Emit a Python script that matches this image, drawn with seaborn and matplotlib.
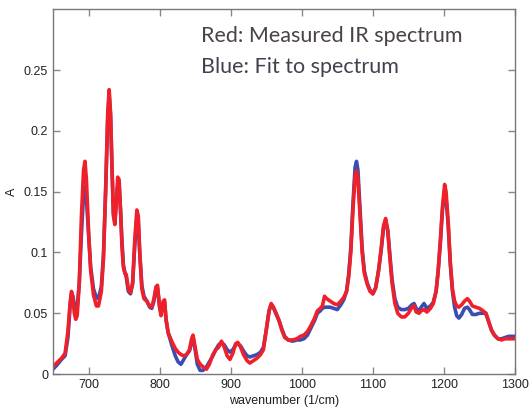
import numpy as np
import pandas as pd
import matplotlib
matplotlib.use("Agg")
import matplotlib.pyplot as plt
import seaborn as sns

# wavenumber grid (1/cm) and absorbance
wavenumber = [
    650, 655, 662, 667, 671, 674, 676, 678, 680, 682, 684, 687, 690, 693, 695, 697,
    700, 703, 707, 711, 714, 718, 721, 724, 727, 729, 731, 733, 735, 737, 739, 741,
    743, 745, 747, 749, 751, 753, 756, 759, 762, 765, 768, 770, 772, 775, 778, 782,
    786, 789, 792, 795, 797, 800, 802, 805, 807, 809, 812, 817, 822, 826, 830, 834,
    838, 842, 845, 847, 850, 853, 857, 861, 866, 870, 875, 879, 883, 887, 891, 895,
    899, 903, 907, 910, 914, 918, 923, 927, 932, 937, 942, 946, 950, 954, 957, 960,
    964, 968, 972, 976, 981, 987, 993, 998, 1003, 1008, 1013, 1018, 1022, 1026, 1029, 1032,
    1035, 1040, 1045, 1050, 1055, 1059, 1063, 1066, 1069, 1072, 1075, 1077, 1079, 1082, 1085, 1088,
    1092, 1096, 1100, 1104, 1108, 1112, 1115, 1118, 1121, 1124, 1127, 1131, 1135, 1140, 1145, 1150,
    1155, 1158, 1161, 1165, 1168, 1172, 1176, 1181, 1185, 1189, 1192, 1195, 1198, 1201, 1203, 1206,
    1209, 1212, 1215, 1218, 1221, 1225, 1229, 1233, 1236, 1240, 1245, 1250, 1255, 1259, 1263, 1267,
    1271, 1276, 1281, 1286, 1291, 1296, 1300,
]

measured = [
    0.006, 0.009, 0.013, 0.017, 0.035, 0.058, 0.068, 0.063, 0.050, 0.045, 0.048, 0.075, 0.130, 0.168, 0.175, 0.160,
    0.118, 0.085, 0.065, 0.056, 0.056, 0.068, 0.095, 0.150, 0.215, 0.234, 0.215, 0.170, 0.130, 0.123, 0.140, 0.162,
    0.160, 0.135, 0.105, 0.088, 0.083, 0.082, 0.070, 0.067, 0.075, 0.110, 0.135, 0.130, 0.100, 0.070, 0.062, 0.060,
    0.056, 0.055, 0.062, 0.072, 0.073, 0.055, 0.048, 0.060, 0.061, 0.045, 0.034, 0.027, 0.021, 0.018, 0.016, 0.015,
    0.016, 0.020, 0.029, 0.032, 0.022, 0.012, 0.008, 0.006, 0.004, 0.008, 0.016, 0.020, 0.022, 0.027, 0.022, 0.015,
    0.012, 0.017, 0.025, 0.026, 0.022, 0.016, 0.011, 0.009, 0.011, 0.013, 0.016, 0.020, 0.036, 0.052, 0.058, 0.055,
    0.050, 0.044, 0.036, 0.030, 0.028, 0.028, 0.029, 0.031, 0.032, 0.035, 0.040, 0.046, 0.052, 0.054, 0.056, 0.064,
    0.062, 0.060, 0.058, 0.057, 0.060, 0.063, 0.068, 0.080, 0.100, 0.135, 0.163, 0.167, 0.160, 0.130, 0.100, 0.083,
    0.074, 0.068, 0.066, 0.071, 0.085, 0.105, 0.122, 0.128, 0.118, 0.095, 0.075, 0.058, 0.050, 0.047, 0.047, 0.050,
    0.055, 0.056, 0.051, 0.050, 0.052, 0.053, 0.051, 0.054, 0.058, 0.068, 0.086, 0.110, 0.138, 0.156, 0.150, 0.125,
    0.092, 0.070, 0.060, 0.056, 0.055, 0.057, 0.060, 0.062, 0.060, 0.056, 0.055, 0.054, 0.052, 0.050, 0.043, 0.036,
    0.032, 0.029, 0.028, 0.029, 0.029, 0.029, 0.029,
]

fit = [
    0.004, 0.007, 0.012, 0.015, 0.030, 0.055, 0.066, 0.064, 0.057, 0.053, 0.055, 0.075, 0.115, 0.148, 0.154, 0.145,
    0.115, 0.088, 0.070, 0.063, 0.062, 0.072, 0.098, 0.150, 0.210, 0.230, 0.212, 0.170, 0.132, 0.126, 0.140, 0.155,
    0.156, 0.135, 0.110, 0.090, 0.084, 0.080, 0.068, 0.066, 0.074, 0.105, 0.130, 0.125, 0.100, 0.073, 0.064, 0.060,
    0.055, 0.054, 0.060, 0.070, 0.071, 0.055, 0.050, 0.058, 0.059, 0.045, 0.034, 0.024, 0.015, 0.010, 0.008, 0.012,
    0.016, 0.019, 0.026, 0.030, 0.020, 0.008, 0.003, 0.003, 0.006, 0.010, 0.015, 0.020, 0.024, 0.026, 0.024, 0.020,
    0.018, 0.020, 0.024, 0.025, 0.023, 0.019, 0.015, 0.014, 0.015, 0.016, 0.018, 0.022, 0.036, 0.052, 0.057, 0.055,
    0.049, 0.044, 0.037, 0.031, 0.028, 0.027, 0.028, 0.028, 0.029, 0.032, 0.038, 0.044, 0.050, 0.052, 0.054, 0.055,
    0.055, 0.055, 0.054, 0.053, 0.057, 0.061, 0.068, 0.082, 0.104, 0.140, 0.170, 0.175, 0.168, 0.135, 0.103, 0.085,
    0.075, 0.069, 0.066, 0.071, 0.085, 0.103, 0.120, 0.126, 0.118, 0.098, 0.078, 0.062, 0.055, 0.053, 0.053, 0.054,
    0.057, 0.058, 0.054, 0.052, 0.055, 0.058, 0.054, 0.056, 0.059, 0.068, 0.085, 0.108, 0.135, 0.150, 0.145, 0.122,
    0.090, 0.068, 0.055, 0.048, 0.046, 0.049, 0.054, 0.055, 0.053, 0.049, 0.049, 0.050, 0.050, 0.050, 0.043, 0.036,
    0.032, 0.029, 0.029, 0.030, 0.031, 0.031, 0.031,
]

df = pd.DataFrame({"wavenumber": wavenumber, "measured": measured, "fit": fit})

sns.set_style("ticks")
plt.rcParams["font.family"] = ["Liberation Sans", "DejaVu Sans"]

fig = plt.figure(figsize=(5.3, 4.11), dpi=100)
ax = fig.add_axes([0.1, 0.09, 0.8717, 0.887])

sns.lineplot(data=df, x="wavenumber", y="fit", color="#3a4db0", linewidth=2.6, ax=ax, sort=False)
sns.lineplot(data=df, x="wavenumber", y="measured", color="#f0202a", linewidth=2.6, ax=ax, sort=False)

ax.set_xlim(650, 1300)
ax.set_ylim(0, 0.3)
ax.set_xticks([700, 800, 900, 1000, 1100, 1200, 1300])
ax.set_yticks([0, 0.05, 0.1, 0.15, 0.2, 0.25])
ax.set_yticklabels(["0", "0.05", "0.1", "0.15", "0.2", "0.25"])

ax.tick_params(direction="in", length=5, width=1, color="#888888",
               top=True, right=True, labelsize=9, labelcolor="#222222")
for s in ax.spines.values():
    s.set_color("#777777")
    s.set_linewidth(1)

ax.set_xlabel("wavenumber (1/cm)", fontsize=9, color="#222222", labelpad=3)
ax.set_ylabel("A", fontsize=9, color="#222222", labelpad=4)

# annotation in place of a legend
note_font = dict(fontsize=15.5, ha="left", va="top", family="Lato")
ax.text(0.32, 0.955, "Red: Measured IR spectrum", transform=ax.transAxes,
        color="#4a4248", **note_font)
ax.text(0.32, 0.87, "Blue: Fit to spectrum", transform=ax.transAxes,
        color="#42424e", **note_font)

fig.savefig("out.png", dpi=100)
